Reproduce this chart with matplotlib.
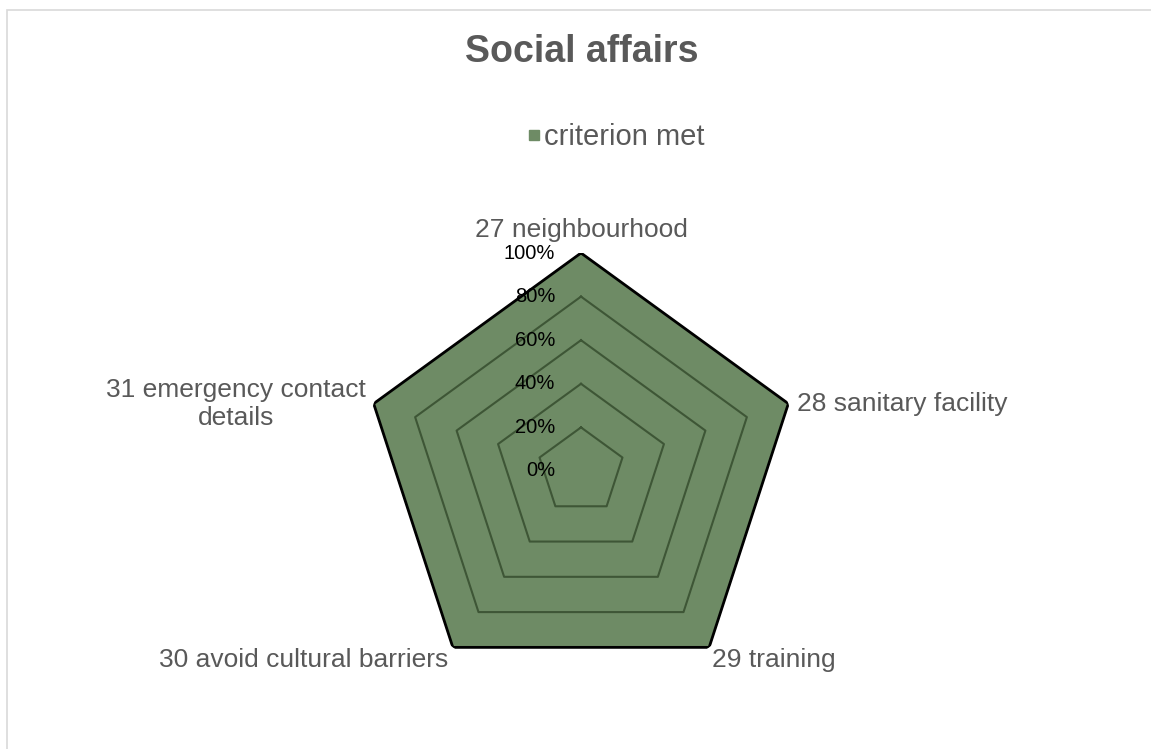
import numpy as np
import matplotlib
matplotlib.use('Agg')
from matplotlib import pyplot as plt
from matplotlib.lines import Line2D
from matplotlib.patches import Rectangle

plt.rcParams['font.family'] = ['Liberation Sans', 'DejaVu Sans']

categories = ['27 neighbourhood', '28 sanitary facility', '29 training',
              '30 avoid cultural barriers', '31 emergency contact\ndetails']
values = [100, 100, 100, 100, 100]
levels = [20, 40, 60, 80, 100]
tick_labels = ['0%', '20%', '40%', '60%', '80%', '100%']

W, H = 1151, 749
fig = plt.figure(figsize=(W / 100, H / 100), dpi=100)

# chart area border
fig.patches.append(Rectangle((7 / W, -0.05), 1.2, 1.05 - 10 / H, transform=fig.transFigure,
                             fill=False, edgecolor='#D9D9D9', lw=1.2))

cx, cy, r = 581, H - 471, 218
ax = fig.add_axes([(cx - r) / W, (cy - r) / H, 2 * r / W, 2 * r / H], projection='polar')
ax.set_theta_zero_location('N')
ax.set_theta_direction(-1)
ax.set_ylim(0, 100)
ax.axis('off')

n = len(categories)
theta = np.linspace(0, 2 * np.pi, n, endpoint=False)
tt = np.append(theta, theta[0])
vv = np.append(values, values[0])

ax.fill(tt, vv, color='#6E8B65', zorder=1)
for lv in levels[:-1]:
    ax.plot(tt, [lv] * (n + 1), color='#3E5636', lw=1.5, zorder=2)
ax.plot(tt, vv, color='black', lw=2, zorder=3)

# value ticks along the first spoke
for i, lab in enumerate(tick_labels):
    ax.annotate(lab, (0, i * 20), xytext=(-26, 0), textcoords='offset pixels',
                ha='right', va='center', fontsize=14.5, color='black', zorder=4)

# category labels
offsets = [((0, 23), 'center', 'center'), ((9, 0), 'left', 'center'),
           ((3, -1), 'left', 'top'), ((-5, -1), 'right', 'top'),
           ((-8, 0), 'right', 'center')]
for th, lab, (off, ha, va) in zip(theta, categories, offsets):
    ax.annotate(lab, (th, 100), xytext=off, textcoords='offset pixels',
                ha=ha, va=va, fontsize=19, color='#595959', multialignment='center',
                annotation_clip=False)

fig.text(582 / W, 1 - 52 / H, 'Social affairs', ha='center', va='center',
         fontsize=27, fontweight='bold', color='#595959')

handle = Line2D([], [], ls='none', marker='s', markersize=7.6,
                markerfacecolor='#6E8B65', markeredgecolor='#6E8B65', label='criterion met')
leg = fig.legend(handles=[handle], loc='center', bbox_to_anchor=(616 / W, 1 - 137 / H),
                 frameon=False, fontsize=21, handlelength=0.4, handletextpad=0.15)
for t in leg.get_texts():
    t.set_color('#595959')

fig.savefig('out.png', dpi=100)
